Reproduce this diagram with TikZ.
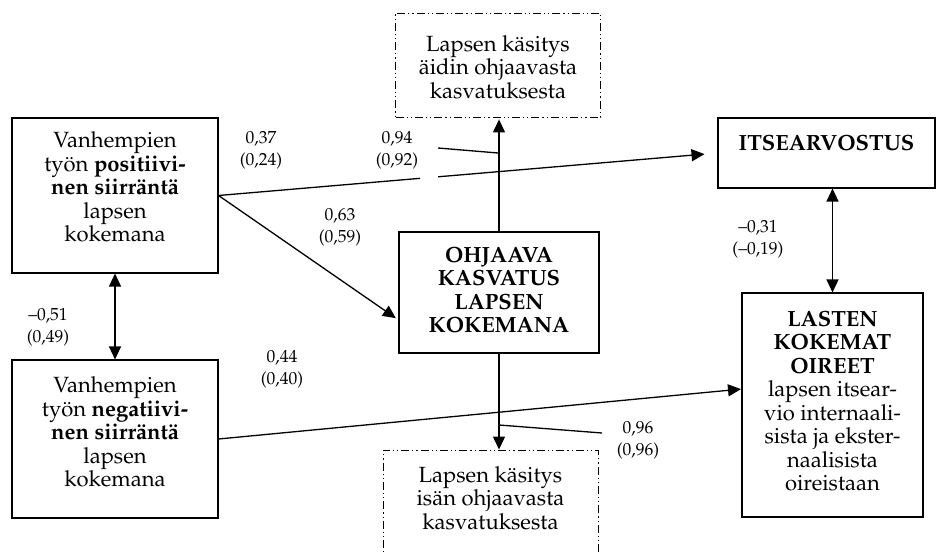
\documentclass[tikz,border=0pt]{standalone}
\usepackage[T1]{fontenc}
\usepackage{mathpazo}
\usetikzlibrary{arrows.meta,calc}
\begin{document}
\begin{tikzpicture}[x=1pt,y=-1pt,
 box/.style={draw,line width=1.1pt,rectangle,inner sep=0pt},
 dd/.style={draw,line width=0.9pt,dash pattern=on 8pt off 3pt on 1.2pt off 3pt on 1.2pt off 3pt},
 txt/.style={align=center,font=\fontsize{22}{23.5}\selectfont,inner sep=0pt},
 lab/.style={align=center,font=\fontsize{17.5}{22}\selectfont,inner sep=0pt},
 con/.style={line width=1.3pt},
 arr/.style={con,-{Triangle[length=13pt,width=12pt]}},
 darr/.style={con,{Triangle[length=13pt,width=12pt]}-{Triangle[length=13pt,width=12pt]}},
]
\clip (0,0) rectangle (941,553);
\fill[white] (0,0) rectangle (941,553);

% boxes
\node[box,minimum width=206pt,minimum height=155pt] (pos) at (115,195.5) {};
\node[box,minimum width=206pt,minimum height=158pt] (neg) at (115,439) {};
\node[box,minimum width=200pt,minimum height=121pt] (ohj) at (499,292.5) {};
\node[box,minimum width=217pt,minimum height=70pt] (its) at (826.5,153) {};
\node[box,minimum width=181pt,minimum height=224pt] (lasten) at (832.5,405) {};
\node[rectangle,dd,inner sep=0pt,minimum width=205pt,minimum height=104pt] (mother) at (498,65) {};
\node[rectangle,dd,inner sep=0pt,minimum width=215pt,minimum height=120pt] (father) at (490.5,510) {};

% texts
\node[txt] (post) at (115,187) {Vanhempien\\ty\"on \textbf{positiivi-}\\\textbf{nen siirr\"ant\"a}\\lapsen\\kokemana};
\node[txt] (negt) at (115,432) {Vanhempien\\ty\"on \textbf{negatiivi-}\\\textbf{nen siirr\"ant\"a}\\lapsen\\kokemana};
\node[txt,font=\fontsize{22}{23.5}\selectfont\bfseries] (ohjt) at (499,290) {OHJAAVA\\KASVATUS\\LAPSEN\\KOKEMANA};
\node[txt,font=\fontsize{22}{23.5}\selectfont\bfseries] (itst) at (826.5,143) {ITSEARVOSTUS};
\node[txt] (lastent) at (832.5,401) {\textbf{LASTEN}\\\textbf{KOKEMAT}\\\textbf{OIREET}\\lapsen itsear-\\vio internaali-\\sista ja ekster-\\naalisista\\oireistaan};
\node[txt] (mothert) at (498,67) {Lapsen k\"asitys\\\"aidin ohjaavasta\\kasvatuksesta};
\node[txt] (fathert) at (490.5,498) {Lapsen k\"asitys\\is\"an ohjaavasta\\kasvatuksesta};

% labels
\node[lab] (l37) at (261,150) {0,37\\(0,24)};
\node[lab] (l94) at (397,150) {0,94\\(0,92)};
\node[lab] (l63) at (340,227) {0,63\\(0,59)};
\node[lab] (l51) at (48,327) {--0,51\\(0,49)};
\node[lab] (l44) at (282,369) {0,44\\(0,40)};
\node[lab] (l96) at (638,440) {0,96\\(0,96)};
\node[lab] (l31) at (758,239) {--0,31\\(--0,19)};

% coordinates
\coordinate (g1) at ($(pos.east)!0.404!(its.west)$);
\coordinate (g2) at ($(pos.east)!0.44!(its.west)$);
\coordinate (a63) at (400,321);
\coordinate (p1) at (438,148);
\coordinate (p2) at (498,153);
\coordinate (q1) at (499,425);
\coordinate (q2) at (602,433);
\coordinate (lt) at (742,389);

% connectors
\draw[con] (pos.east) -- (g1);
\draw[arr,shorten >=13pt] (g2) -- (its.west);
\draw[arr,shorten >=5pt] (pos.east) -- (a63);
\draw[arr,shorten >=2pt] (ohj.north) -- (ohj.north |- mother.south);
\draw[arr] (ohj.south) -- (ohj.south |- father.north);
\draw[arr,shorten >=1pt] (neg.east) -- (lt);
\draw[darr] (pos.south) -- (neg.north);
\draw[darr] (lasten.north |- its.south) -- (lasten.north);
\draw[con] (p1) -- (p2);
\draw[con] (q1) -- (q2);
\end{tikzpicture}
\end{document}
